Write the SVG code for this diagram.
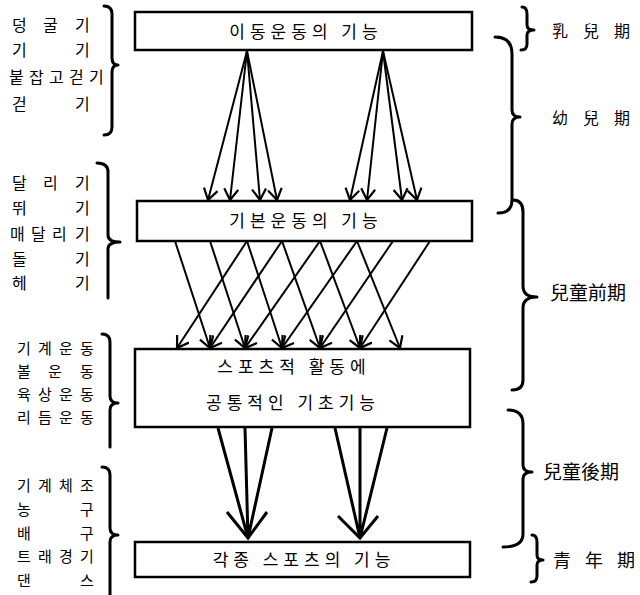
<svg xmlns="http://www.w3.org/2000/svg" width="640" height="595" viewBox="0 0 640 595">
<style>
.box{fill:#fff;stroke:#000;stroke-width:2.5}
.bt{font-family:"Noto Sans CJK KR","Noto Sans CJK SC",sans-serif;font-size:17px;letter-spacing:5px;text-anchor:middle;fill:#000}
.lt{font-family:"Noto Sans CJK KR","Noto Sans CJK SC",sans-serif;font-size:16px;fill:#000}
.lt2{font-family:"Noto Sans CJK KR","Noto Sans CJK SC",sans-serif;font-size:15px;fill:#000}
.rt{font-family:"Noto Sans CJK TC","Noto Sans CJK KR",sans-serif;fill:#000}
.br{fill:none;stroke:#000;stroke-width:3;stroke-linecap:round;stroke-linejoin:round}
.ar{stroke:#000;stroke-width:2;fill:none}
.ar3{stroke:#000;stroke-width:3;fill:none}
</style>
<defs>
<marker id="ah" viewBox="0 0 14 16" markerWidth="14" markerHeight="16" refX="12" refY="8" orient="auto" markerUnits="userSpaceOnUse">
<path d="M1,1 L12,8 L1,15" fill="none" stroke="#000" stroke-width="2.2"/>
</marker>
</defs>
<rect width="640" height="595" fill="#fff"/>

<g id="node-box1"><rect class="box" x="135" y="12" width="337" height="38"/><text class="bt" x="306" y="38">이동운동의 기능</text></g>
<g id="node-box2"><rect class="box" x="137" y="201" width="335" height="40"/><text class="bt" x="306" y="227">기본운동의 기능</text></g>
<g id="node-box3"><rect class="box" x="135" y="349" width="335" height="78"/><text class="bt" x="294" y="373">스포츠적 활동에</text><text class="bt" x="293" y="409">공통적인 기초기능</text></g>
<g id="node-box4"><rect class="box" x="135" y="542" width="335" height="35"/><text class="bt" x="304" y="566">각종 스포츠의 기능</text></g>

<g id="connectors">
<line class="ar" x1="247" y1="51" x2="208" y2="200" marker-end="url(#ah)"/>
<line class="ar" x1="247" y1="51" x2="230" y2="200" marker-end="url(#ah)"/>
<line class="ar" x1="247" y1="51" x2="260" y2="200" marker-end="url(#ah)"/>
<line class="ar" x1="247" y1="51" x2="277" y2="200" marker-end="url(#ah)"/>
<line class="ar" x1="383" y1="51" x2="350" y2="200" marker-end="url(#ah)"/>
<line class="ar" x1="383" y1="51" x2="367" y2="200" marker-end="url(#ah)"/>
<line class="ar" x1="383" y1="51" x2="402" y2="200" marker-end="url(#ah)"/>
<line class="ar" x1="383" y1="51" x2="417" y2="200" marker-end="url(#ah)"/>

<line class="ar" x1="175" y1="241" x2="210" y2="348" marker-end="url(#ah)"/>
<line class="ar" x1="210" y1="241" x2="245" y2="348" marker-end="url(#ah)"/>
<line class="ar" x1="247" y1="241" x2="282" y2="348" marker-end="url(#ah)"/>
<line class="ar" x1="282" y1="241" x2="320" y2="348" marker-end="url(#ah)"/>
<line class="ar" x1="320" y1="241" x2="360" y2="348" marker-end="url(#ah)"/>
<line class="ar" x1="357" y1="241" x2="400" y2="348" marker-end="url(#ah)"/>
<line class="ar" x1="247" y1="241" x2="177" y2="348" marker-end="url(#ah)"/>
<line class="ar" x1="282" y1="241" x2="210" y2="348" marker-end="url(#ah)"/>
<line class="ar" x1="320" y1="241" x2="245" y2="348" marker-end="url(#ah)"/>
<line class="ar" x1="357" y1="241" x2="282" y2="348" marker-end="url(#ah)"/>
<line class="ar" x1="393" y1="241" x2="320" y2="348" marker-end="url(#ah)"/>
<line class="ar" x1="430" y1="241" x2="360" y2="348" marker-end="url(#ah)"/>

<path class="ar3" d="M218,428 L248,538 M245,428 L248,538 M272,428 L248,538"/>
<path class="ar3" d="M227,512 L248,538 L267,512"/>
<path class="ar3" d="M335,428 L360,538 M360,428 L360,538 M387,428 L360,538"/>
<path class="ar3" d="M338,516 L360,538 L378,516"/>
</g>

<g id="left-group1">
<path class="br" d="M104,6 Q112,6 112,14 L112,58 Q112,65 118,65 Q112,65 112,72 L112,127 Q112,135 104,135"/>
<text class="lt" x="12 30 43 60 75" y="31">덩 굴 기</text>
<text class="lt" x="12 40 75" y="56">기 기</text>
<text class="lt" x="9 29 49 69 89" y="83">붙잡고걷기</text>
<text class="lt" x="12 40 75" y="110">걷 기</text>
</g>
<g id="left-group2">
<path class="br" d="M97,163 Q108,163 108,172 L108,235 Q108,242 120,242 Q108,242 108,249 L108,298"/>
<text class="lt" x="12 30 43 60 75" y="189">달 리 기</text>
<text class="lt" x="12 40 75" y="214">뛰 기</text>
<text class="lt" x="10 31 52 75" y="240">매달리기</text>
<text class="lt" x="12 40 75" y="265">돌 기</text>
<text class="lt" x="12 40 75" y="289">헤 기</text>
</g>
<g id="left-group3">
<path class="br" d="M102,334 Q110,334 110,342 L110,396 Q110,403 118,403 Q110,403 110,410 L110,447"/>
<text class="lt2" x="17 38 59 80" y="354">기계운동</text>
<text class="lt2" x="17 35 48 65 80" y="377">볼 운 동</text>
<text class="lt2" x="17 38 59 80" y="400">육상운동</text>
<text class="lt2" x="17 38 59 80" y="423">리듬운동</text>
</g>
<g id="left-group4">
<path class="br" d="M102,467 Q110,467 110,475 L110,528 Q110,535 118,535 Q110,535 110,542 L110,595"/>
<text class="lt2" x="17 38 59 80" y="491">기계체조</text>
<text class="lt2" x="17 50 80" y="515">농 구</text>
<text class="lt2" x="17 50 80" y="539">배 구</text>
<text class="lt2" x="17 38 59 80" y="562">트래경기</text>
<text class="lt2" x="17 50 80" y="586">댄 스</text>
</g>

<g id="right-group1">
<path class="br" d="M522,7 Q527,7 527,14 L527,25 Q527,30 534,30 Q527,30 527,35 L527,44 Q527,50 521,50"/>
<text class="rt" font-size="16" x="552 570 583 600 614" y="37">乳 兒 期</text>
</g>
<g id="right-group2">
<path class="br" d="M495,37 Q512,37 512,54 L512,110 Q512,117 520,117 Q512,117 512,124 L512,200 Q512,213 498,213"/>
<text class="rt" font-size="16" x="552 570 583 600 614" y="124">幼 兒 期</text>
</g>
<g id="right-group3">
<path class="br" d="M513,200 Q523,200 523,212 L523,286 Q523,297 537,297 Q523,297 523,308 L523,380 Q523,390 512,390"/>
<text class="rt" font-size="19" x="550" y="300">兒童前期</text>
</g>
<g id="right-group4">
<path class="br" d="M508,410 Q523,410 523,424 L523,465 Q523,472 532,472 Q523,472 523,479 L523,534 Q523,547 503,547"/>
<text class="rt" font-size="19" x="543" y="479">兒童後期</text>
</g>
<g id="right-group5">
<path class="br" d="M532,535 Q537,535 537,542 L537,555 Q537,560 543,560 Q537,560 537,565 L537,576 Q537,582 531,582"/>
<text class="rt" font-size="18" x="553 575 585 605 617" y="567">青 年 期</text>
</g>
</svg>
